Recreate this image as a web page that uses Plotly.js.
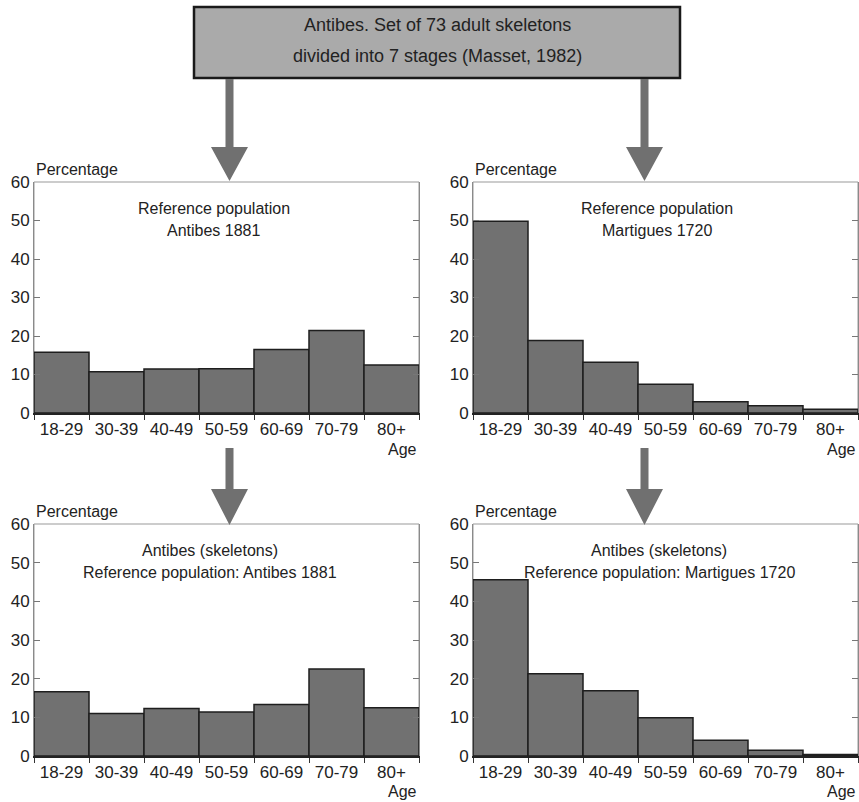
<!DOCTYPE html>
<html>
<head>
<meta charset="utf-8">
<script src="https://cdn.plot.ly/plotly-3.0.1.min.js"></script>
<style>html,body{margin:0;padding:0;background:#fff;}#chart{width:859px;height:802px;}</style>
</head>
<body>
<div id="chart"></div>
<script>
// ---- Data ----
const ageGroups = ['18-29', '30-39', '40-49', '50-59', '60-69', '70-79', '80+'];
const refAntibes1881 = [15.8, 10.7, 11.4, 11.5, 16.5, 21.4, 12.5];
const refMartigues1720 = [49.8, 18.8, 13.2, 7.5, 2.9, 1.9, 1.0];
const skelRefAntibes = [16.6, 11.0, 12.3, 11.4, 13.3, 22.5, 12.5];
const skelRefMartigues = [45.6, 21.3, 16.9, 9.9, 4.1, 1.5, 0.4];
const yTicks = [0, 10, 20, 30, 40, 50, 60];
const yLabel = 'Percentage';
const xLabel = 'Age';
const headerLines = ['Antibes. Set of 73 adult skeletons', 'divided into 7 stages (Masset, 1982)'];
const panelTexts = [
  ['Reference population', 'Antibes 1881'],
  ['Reference population', 'Martigues 1720'],
  ['Antibes (skeletons)', 'Reference population: Antibes 1881'],
  ['Antibes (skeletons)', 'Reference population: Martigues 1720']
];
const panelSeries = [refAntibes1881, refMartigues1720, skelRefAntibes, skelRefMartigues];

// ---- Layout helpers ----
const W = 859, H = 802;
const FONT = 'Liberation Sans, Arial, sans-serif';
const FS = 16;
const TXT = '#222222';
const X = px => px / W;
const Y = py => 1 - py / H;

const colDom = [[X(34), X(419)], [X(473), X(858)]];
const rowDom = [[Y(413), Y(182)], [Y(756), Y(524)]];

const traces = [];
const layout = {
  width: W, height: H,
  margin: {l: 0, r: 0, t: 0, b: 0},
  paper_bgcolor: '#ffffff', plot_bgcolor: '#ffffff',
  showlegend: false,
  bargap: 0,
  font: {family: FONT, size: FS, color: TXT},
  shapes: [], annotations: []
};

panelSeries.forEach((vals, i) => {
  const n = i + 1;
  const xa = 'x' + (n === 1 ? '' : n), ya = 'y' + (n === 1 ? '' : n);
  const col = i % 2, row = Math.floor(i / 2);
  traces.push({
    type: 'bar', x: ageGroups, y: vals, xaxis: xa, yaxis: ya,
    marker: {color: '#717171', line: {color: '#1e1e1e', width: 1.5}},
    hoverinfo: 'x+y'
  });
  layout['xaxis' + (n === 1 ? '' : n)] = {
    domain: colDom[col], anchor: ya,
    type: 'category', range: [-0.5, 6.5], tickangle: 0,
    showline: true, linecolor: '#222', linewidth: 1.5, mirror: false,
    ticks: 'outside', tickson: 'boundaries', ticklen: 5, tickcolor: '#333', tickwidth: 1,
    showgrid: false, zeroline: false,
    tickfont: {family: FONT, size: FS + 1, color: TXT}
  };
  layout['yaxis' + (n === 1 ? '' : n)] = {
    domain: rowDom[row], anchor: xa,
    range: [0, 60], tickvals: yTicks,
    showline: true, linecolor: '#8a8a8a', linewidth: 1, mirror: 'ticks',
    ticks: 'inside', ticklen: 6, tickcolor: '#777', tickwidth: 1,
    showgrid: false, zeroline: false,
    tickfont: {family: FONT, size: FS + 1, color: TXT}
  };
  layout.shapes.push({type: 'rect', xref: xa + ' domain', yref: ya + ' domain',
    x0: 0, x1: 1, y0: 0, y1: 1, line: {color: '#999', width: 1}, layer: 'below'});
  layout.annotations.push({xref: xa + ' domain', yref: ya + ' domain', x: 0, y: 1.052,
    xanchor: 'left', yanchor: 'middle', showarrow: false, text: yLabel,
    font: {family: FONT, size: FS, color: TXT}});
  layout.annotations.push({xref: xa + ' domain', yref: ya + ' domain', x: 1, y: row === 0 ? -0.16 : -0.151,
    xanchor: 'right', yanchor: 'middle', showarrow: false, text: xLabel,
    font: {family: FONT, size: FS, color: TXT}});
  const cx = [0.468, 0.478, 0.458, 0.484][i];
  layout.annotations.push({xref: xa + ' domain', yref: ya + ' domain', x: cx, y: 0.884,
    xanchor: 'center', yanchor: 'middle', showarrow: false, text: panelTexts[i][0],
    font: {family: FONT, size: FS, color: TXT}});
  layout.annotations.push({xref: xa + ' domain', yref: ya + ' domain', x: cx, y: 0.79,
    xanchor: 'center', yanchor: 'middle', showarrow: false, text: panelTexts[i][1],
    font: {family: FONT, size: FS, color: TXT}});
});

// header box
layout.shapes.push({type: 'rect', xref: 'paper', yref: 'paper',
  x0: X(194), x1: X(680), y0: Y(78), y1: Y(7),
  fillcolor: '#aaaaaa', line: {color: '#1a1a1a', width: 2.5}});
layout.annotations.push({xref: 'paper', yref: 'paper', x: X(437), y: Y(25), xanchor: 'center', yanchor: 'middle',
  showarrow: false, text: headerLines[0], font: {family: FONT, size: 18, color: TXT}});
layout.annotations.push({xref: 'paper', yref: 'paper', x: X(437), y: Y(56), xanchor: 'center', yanchor: 'middle',
  showarrow: false, text: headerLines[1], font: {family: FONT, size: 18, color: TXT}});

// arrows
function arrowPath(cx, y0, yh, tip) {
  const s = 4, h = 18.5;
  const pts = [[cx - s, y0], [cx + s, y0], [cx + s, yh], [cx + h, yh], [cx, tip], [cx - h, yh], [cx - s, yh]];
  return 'M ' + pts.map(p => X(p[0]).toFixed(5) + ',' + Y(p[1]).toFixed(5)).join(' L ') + ' Z';
}
[[229.5, 79, 147, 181], [644.5, 79, 147, 181], [229.5, 448, 489, 525], [644.5, 448, 489, 525]].forEach(a => {
  layout.shapes.push({type: 'path', xref: 'paper', yref: 'paper', path: arrowPath(a[0], a[1], a[2], a[3]),
    fillcolor: '#707070', line: {width: 0}});
});

Plotly.newPlot('chart', traces, layout, {displayModeBar: false, staticPlot: true});
</script>
</body>
</html>
